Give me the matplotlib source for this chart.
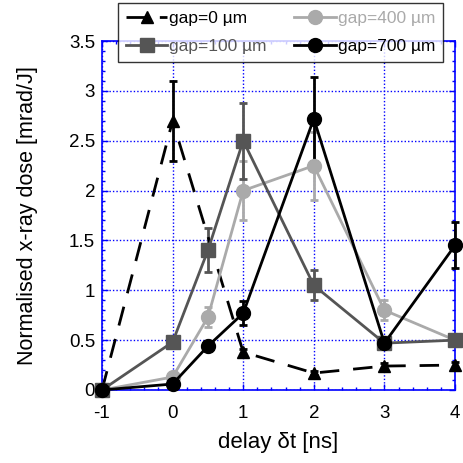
import matplotlib
matplotlib.use("Agg")
import matplotlib.pyplot as plt
from matplotlib.ticker import MultipleLocator
from matplotlib.lines import Line2D

plt.rcParams['font.family'] = ['Liberation Sans', 'DejaVu Sans']
plt.rcParams['axes.unicode_minus'] = False

# delay (ns) and normalised dose for each gap
x0 = [-1, 0, 1, 2, 3, 4]
y0 = [0.0, 2.7, 0.38, 0.17, 0.24, 0.25]
e0 = [0.0, 0.4, 0.03, 0.02, 0.03, 0.03]

x100 = [-1, 0, 0.5, 1, 2, 3, 4]
y100 = [0.0, 0.48, 1.4, 2.5, 1.05, 0.47, 0.5]
e100 = [0.0, 0.03, 0.22, 0.38, 0.15, 0.03, 0.03]

x400 = [-1, 0, 0.5, 1, 2, 3, 4]
y400 = [0.0, 0.13, 0.73, 2.0, 2.25, 0.8, 0.5]
e400 = [0.0, 0.03, 0.1, 0.3, 0.34, 0.1, 0.03]

x700 = [-1, 0, 0.5, 1, 2, 3, 4]
y700 = [0.0, 0.06, 0.44, 0.77, 2.72, 0.47, 1.45]
e700 = [0.0, 0.02, 0.03, 0.12, 0.42, 0.03, 0.23]

fig = plt.figure(figsize=(4.64, 4.63), dpi=100)
ax = fig.add_axes([102/464, 1 - 390/463, 353/464, 349/463])

series = [
    (x0, y0, e0, 'black', '^', (0, (7, 5)), 'gap=0 µm', 9),
    (x400, y400, e400, '#aaaaaa', 'o', '-', 'gap=400 µm', 10),
    (x100, y100, e100, '#555555', 's', '-', 'gap=100 µm', 10),
    (x700, y700, e700, 'black', 'o', '-', 'gap=700 µm', 10),
]
handles = {}
for xs, ys, es, c, m, ls, lab, ms in series:
    ax.errorbar(xs, ys, yerr=es, color=c, marker=m, linestyle=ls, lw=2,
                ms=ms, capsize=3, elinewidth=2, capthick=2,
                clip_on=False, zorder=3)
    handles[lab] = Line2D([], [], color=c, marker=m, linestyle=ls, lw=2, ms=ms)

ax.set_xlim(-1, 4)
ax.set_ylim(0, 3.5)
ax.xaxis.set_major_locator(MultipleLocator(1))
ax.xaxis.set_minor_locator(MultipleLocator(0.2))
ax.yaxis.set_major_locator(MultipleLocator(0.5))
ax.yaxis.set_minor_locator(MultipleLocator(0.1))
ax.set_yticks([0, 0.5, 1, 1.5, 2, 2.5, 3, 3.5])
ax.set_yticklabels(['0', '0.5', '1', '1.5', '2', '2.5', '3', '3.5'])
ax.tick_params(which='both', direction='in', color='blue', top=True, right=True,
               labelsize=13.5)
ax.tick_params(axis='x', pad=11)
ax.tick_params(axis='y', pad=5)
ax.tick_params(which='major', length=4, width=1)
ax.tick_params(which='minor', length=2, width=1)
for s in ax.spines.values():
    s.set_color('blue')
    s.set_linewidth(1.2)
ax.grid(True, which='major', color='blue', linestyle=(0, (1, 1.5)), lw=1)
ax.set_axisbelow(True)

ax.set_xlabel('delay δt [ns]', fontsize=16, labelpad=7)
ax.set_ylabel('Normalised x-ray dose [mrad/J]', fontsize=15.5, labelpad=22)

order = ['gap=0 µm', 'gap=100 µm', 'gap=400 µm', 'gap=700 µm']
leg = fig.legend([handles[k] for k in order], order, ncol=2,
                 loc='upper left', bbox_to_anchor=(118/464, 1 - 3/463),
                 borderaxespad=0,
                 frameon=True, fancybox=False, edgecolor='black',
                 fontsize=12.5, handlelength=2.4, handletextpad=0.1,
                 columnspacing=1.6, borderpad=0.45, labelspacing=0.75)
leg.get_frame().set_linewidth(1)
leg.set_zorder(10)
colors = {'gap=0 µm': 'black', 'gap=100 µm': '#555555',
          'gap=400 µm': '#aaaaaa', 'gap=700 µm': 'black'}
for t in leg.get_texts():
    t.set_color(colors[t.get_text()])

fig.savefig('out.png', dpi=100)
